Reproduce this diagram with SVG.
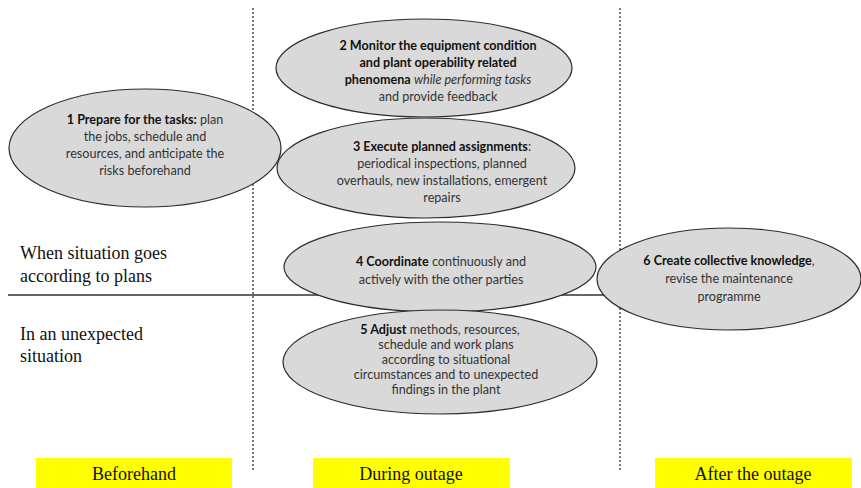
<svg xmlns="http://www.w3.org/2000/svg" width="861" height="488" viewBox="0 0 861 488">
  <style>
    .bg { fill: #ffffff; }
    .divider { stroke: #333333; stroke-width: 1.3; stroke-dasharray: 2 2; fill: none; }
    .rule { stroke: #333333; stroke-width: 1.3; fill: none; }
    .step { fill: #d9d9d9; stroke: #2b2b2b; stroke-width: 1.2; }
    .txt { font-family: Lato, "Liberation Sans", sans-serif; font-size: 12.6px; fill: #333333; text-anchor: middle; }
    .b { font-weight: bold; fill: #111111; }
    .i { font-style: italic; }
    .side { font-family: "Liberation Serif", serif; font-size: 18px; fill: #111111; }
    .phase { fill: #ffff00; }
    .phase-txt { font-family: "Liberation Serif", serif; font-size: 18px; fill: #111111; text-anchor: middle; }
  </style>

  <rect class="bg" x="0" y="0" width="861" height="488"/>

  <!-- phase dividers and the planned / unexpected split -->
  <g id="connectors">
    <line class="divider" x1="253" y1="8" x2="253" y2="472"/>
    <line class="divider" x1="620" y1="8" x2="620" y2="472"/>
    <line class="rule" x1="8" y1="295" x2="610" y2="295"/>
  </g>

  <!-- row labels -->
  <g id="row-planned">
    <text class="side" x="20" y="259">When situation goes</text>
    <text class="side" x="20" y="282">according to plans</text>
  </g>
  <g id="row-unexpected">
    <text class="side" x="20" y="340">In an unexpected</text>
    <text class="side" x="20" y="362">situation</text>
  </g>

  <g id="step1">
    <ellipse class="step" cx="145" cy="148" rx="136" ry="59"/>
    <text class="txt" x="145" y="124"><tspan class="b">1 Prepare for the tasks:</tspan> plan</text>
    <text class="txt" x="145" y="141">the jobs, schedule and</text>
    <text class="txt" x="145" y="158">resources, and anticipate the</text>
    <text class="txt" x="145" y="175">risks beforehand</text>
  </g>

  <g id="step2">
    <ellipse class="step" cx="424" cy="68" rx="148" ry="49"/>
    <text class="txt b" x="438" y="50">2 Monitor the equipment condition</text>
    <text class="txt b" x="438" y="67">and plant operability related</text>
    <text class="txt" x="438" y="84"><tspan class="b">phenomena</tspan> <tspan class="i">while performing tasks</tspan></text>
    <text class="txt" x="438" y="101">and provide feedback</text>
  </g>

  <g id="step3">
    <ellipse class="step" cx="426" cy="168" rx="149" ry="50"/>
    <text class="txt" x="442" y="151"><tspan class="b">3 Execute planned assignments</tspan>:</text>
    <text class="txt" x="442" y="168">periodical inspections, planned</text>
    <text class="txt" x="442" y="185">overhauls, new installations, emergent</text>
    <text class="txt" x="442" y="202">repairs</text>
  </g>

  <g id="step4">
    <ellipse class="step" cx="440" cy="267" rx="156" ry="45"/>
    <text class="txt" x="441" y="266"><tspan class="b">4 Coordinate</tspan> continuously and</text>
    <text class="txt" x="441" y="284">actively with the other parties</text>
  </g>

  <g id="step5">
    <ellipse class="step" cx="440" cy="362" rx="157" ry="52"/>
    <text class="txt" x="440" y="334"><tspan class="b">5 Adjust</tspan> methods, resources,</text>
    <text class="txt" x="446" y="349">schedule and work plans</text>
    <text class="txt" x="446" y="364">according to situational</text>
    <text class="txt" x="446" y="379">circumstances and to unexpected</text>
    <text class="txt" x="446" y="394">findings in the plant</text>
  </g>

  <g id="step6">
    <ellipse class="step" cx="729" cy="279" rx="132" ry="51"/>
    <text class="txt" x="729" y="265"><tspan class="b">6 Create collective knowledge</tspan>,</text>
    <text class="txt" x="729" y="283">revise the maintenance</text>
    <text class="txt" x="729" y="301">programme</text>
  </g>

  <!-- phase captions -->
  <g id="phase-before">
    <rect class="phase" x="36" y="458" width="196" height="30"/>
    <text class="phase-txt" x="134" y="480">Beforehand</text>
  </g>
  <g id="phase-during">
    <rect class="phase" x="313" y="458" width="197" height="30"/>
    <text class="phase-txt" x="411" y="480">During outage</text>
  </g>
  <g id="phase-after">
    <rect class="phase" x="655" y="458" width="197" height="30"/>
    <text class="phase-txt" x="753" y="480">After the outage</text>
  </g>
</svg>
